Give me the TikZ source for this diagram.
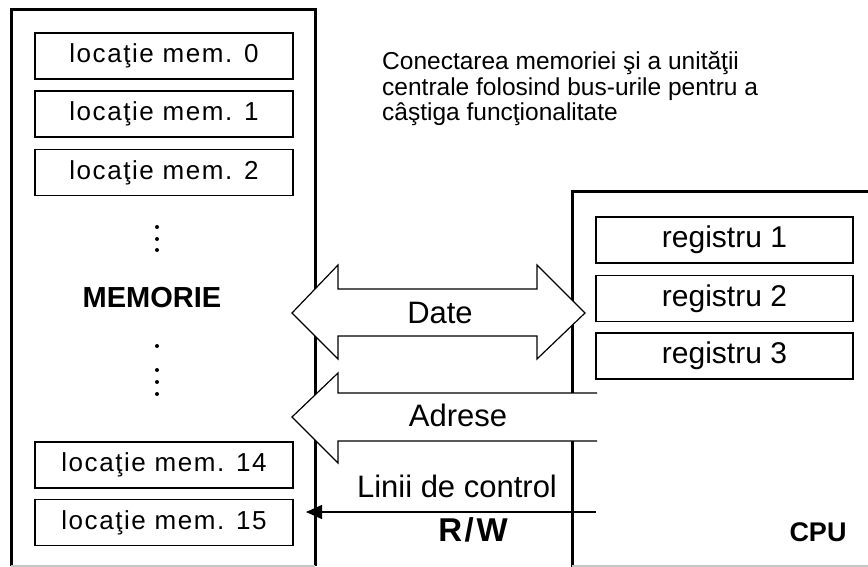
\documentclass[tikz,border=0pt]{standalone}
\usepackage{fontspec}
\setmainfont{Liberation Sans}
\usetikzlibrary{arrows.meta}

\begin{document}
\begin{tikzpicture}[x=1pt,y=-1pt]
				\tikzstyle{every node}=[inner sep=0pt]
				\tikzstyle{memcell}=[draw,line width=1.2pt,minimum width=258pt,minimum height=46pt,
				font=\fontsize{26}{27}\selectfont\addfontfeature{LetterSpace=6}]
				\tikzstyle{regbox}=[draw,line width=1.2pt,minimum width=257pt,minimum height=46pt,
				font=\fontsize{30}{31}\selectfont]
				\tikzstyle{buslabel}=[font=\fontsize{31}{32}\selectfont]
				\tikzstyle{biglabel}=[font=\bfseries\fontsize{29}{30}\selectfont]
				\tikzstyle{outline}=[line width=3pt]
				\tikzstyle{busline}=[line width=1.2pt]
				\useasboundingbox (0,0) rectangle (868,567);
				% memoria
				\draw[outline] (11,566) |- (315,10) -- (315,566);
				\draw[gray!45,line width=1.5pt] (11,566) -- (315,566);
				\node[memcell] (loc0) at (164,56) {locaţie mem. 0};
				\node[memcell] (loc1) at (164,114) {locaţie mem. 1};
				\node[memcell] (loc2) at (164,172.5) {locaţie mem. 2};
				\node[memcell] (loc14) at (164,465) {locaţie mem. 14};
				\node[memcell] (loc15) at (164,522.5) {locaţie mem. 15};
				\foreach \y in {227,239,250,346,370,382,394}
					\fill (157,\y) circle (2pt);
				\node[biglabel] (mem) at (152,298) {MEMORIE};
				% unitatea centrala
				\draw[outline] (572,567) |- (868,192);
				\draw[gray!45,line width=1.5pt] (572,566) -- (868,566);
				\node[regbox] (reg1) at (724.5,240) {registru 1};
				\node[regbox] (reg2) at (724.5,298.5) {registru 2};
				\node[regbox] (reg3) at (724.5,356) {registru 3};
				\node[biglabel,font=\bfseries\fontsize{27}{28}\selectfont] (cpu) at (818,532) {CPU};
				% bus de date
				\draw[busline,fill=white] (292,313) -- (338,265) -- (338,289) -- (537,289) -- (537,265)
					-- (585,313) -- (537,359) -- (537,336) -- (338,336) -- (338,359) -- cycle;
				\node[buslabel] (date) at (440,313) {Date};
				% bus de adrese
				\fill[white] (597,393) -- (338,393) -- (338,373) -- (292,417) -- (338,463) -- (338,441) -- (597,441) -- cycle;
				\draw[busline] (597,393) -- (338,393) -- (338,373) -- (292,417) -- (338,463) -- (338,441) -- (597,441);
				\node[buslabel] (adr) at (458,415) {Adrese};
				% linii de control
				\coordinate (ctlcpu) at (596,512);
				\coordinate (ctlmem) at (306,512);
				\draw[busline,-{Triangle[length=16pt,width=14pt]}] (ctlcpu) -- (ctlmem);
				\node[buslabel] (ctl) at (457,486) {Linii de control};
				\node[biglabel,font=\bfseries\fontsize{33}{34}\selectfont\addfontfeature{LetterSpace=8}] (rw) at (473,530) {R/W};
				% titlu
				\node[anchor=west,align=left,font=\fontsize{24.5}{25.5}\selectfont] (titlu) at (382,89)
					{Conectarea memoriei şi a unităţii\\centrale folosind bus-urile pentru a\\câştiga funcţionalitate};
\end{tikzpicture}
\end{document}
